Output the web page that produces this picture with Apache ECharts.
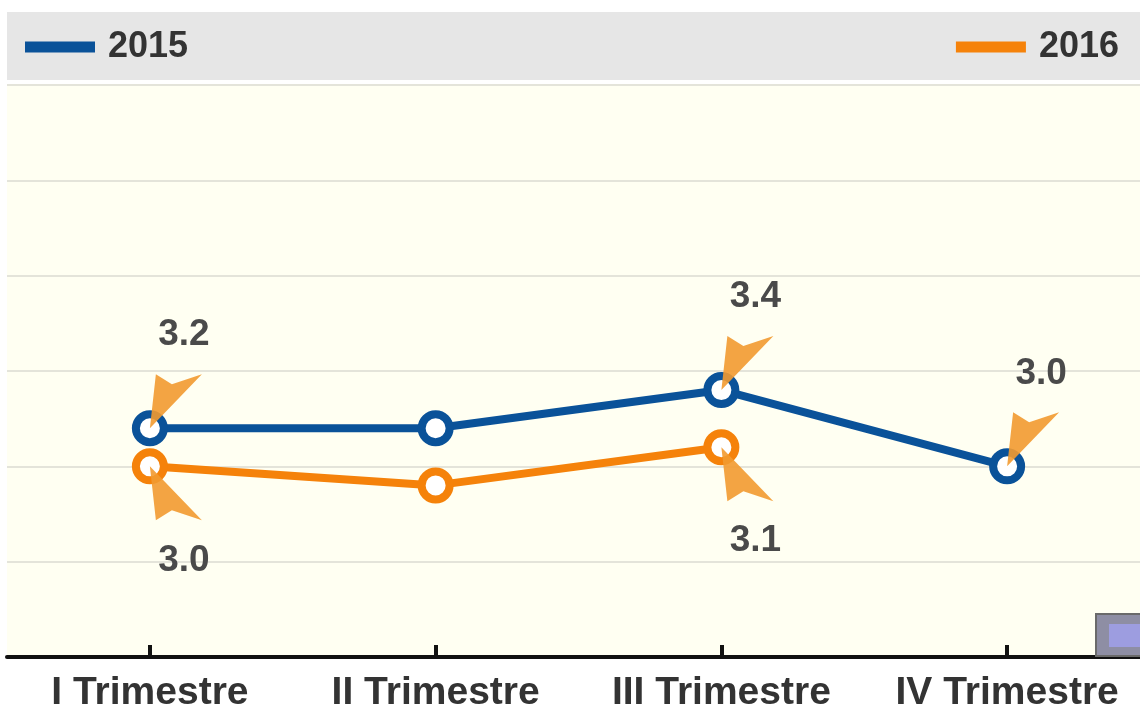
<!DOCTYPE html>
<html>
<head>
<meta charset="utf-8">
<script src="https://cdn.jsdelivr.net/npm/echarts@6/dist/echarts.min.js"></script>
<style>
  html, body { margin: 0; padding: 0; background: #fff; }
  #myChart { width: 1140px; height: 709px; }
</style>
</head>
<body>
<div id="myChart"></div>
<script>
// dati del grafico
const categories = ['I Trimestre', 'II Trimestre', 'III Trimestre', 'IV Trimestre']
const values2015 = [3.2, 3.2, 3.4, 3.0]
const values2016 = [3.0, 2.9, 3.1, null]
// punti con etichetta (indici)
const labeled2015 = [0, 2, 3]
const labeled2016 = [0, 2]

const blue = '#0a5299'
const orange = '#f5820a'
const font = 'Liberation Sans, Arial, sans-serif'

// freccia: punta sul punto, coda in alto a destra
const arrowUp = 'path://M0,0 L6,-54 L22,-44 L52,-54 Z'
const arrowDown = 'path://M0,0 L6,54 L22,44 L52,54 Z'

function buildData (values, labeled, offsetY) {
  return values.map((v, i) => ({
    value: v,
    label: {
      show: labeled.indexOf(i) >= 0,
      position: 'inside',
      offset: [34, offsetY],
      formatter: p => p.value.toFixed(1)
    }
  }))
}

function buildMarks (values, labeled) {
  return labeled.map(i => ({ coord: [i, values[i]] }))
}

const myChart = echarts.init(document.getElementById('myChart'))
myChart.setOption({
  animation: false,
  textStyle: { fontFamily: font },
  graphic: [
    // fascia della legenda
    { type: 'rect', z: -1, shape: { x: 7, y: 12, width: 1133, height: 68 }, style: { fill: '#e6e6e6' } },
    // piccolo riquadro in basso a destra
    { type: 'rect', z: 10, shape: { x: 1096, y: 614, width: 46, height: 42 }, style: { fill: '#8e8ea4', stroke: '#6a6a6a', lineWidth: 2 } },
    { type: 'rect', z: 11, shape: { x: 1109, y: 624, width: 31, height: 23 }, style: { fill: '#9d9de0' } }
  ],
  legend: [{
    data: [{ name: '2015', itemStyle: { color: blue, borderWidth: 0 } }],
    left: 20,
    top: 24,
    icon: 'rect',
    itemWidth: 70,
    itemHeight: 11,
    itemGap: 18,
    textStyle: { fontSize: 36, fontWeight: 'bold', color: '#333', fontFamily: font, padding: [0, 0, 0, 8] }
  }, {
    data: [{ name: '2016', itemStyle: { color: orange, borderWidth: 0 } }],
    right: 16,
    top: 24,
    icon: 'rect',
    itemWidth: 70,
    itemHeight: 11,
    textStyle: { fontSize: 36, fontWeight: 'bold', color: '#333', fontFamily: font, padding: [0, 0, 0, 8] }
  }],
  grid: {
    left: 7,
    right: -10,
    top: 85,
    bottom: 52,
    outerBoundsMode: 'none',
    show: true,
    backgroundColor: '#fffff2',
    borderWidth: 0
  },
  xAxis: {
    type: 'category',
    data: categories,
    axisLine: { lineStyle: { color: '#111', width: 4 } },
    axisTick: { show: true, inside: true, length: 12, alignWithLabel: true, interval: 0, lineStyle: { color: '#111', width: 4 } },
    axisLabel: { interval: 0, hideOverlap: false, fontSize: 39, fontWeight: 'bold', color: '#333', margin: 17, fontFamily: font }
  },
  yAxis: {
    type: 'value',
    min: 2,
    max: 5,
    interval: 0.5,
    axisLabel: { show: false },
    axisLine: { show: false },
    axisTick: { show: false },
    splitLine: { lineStyle: { color: '#e4e4da', width: 2 } }
  },
  series: [{
    name: '2015',
    type: 'line',
    data: buildData(values2015, labeled2015, -93),
    symbol: 'circle',
    symbolSize: 28,
    lineStyle: { color: blue, width: 8 },
    itemStyle: { color: '#fff', borderColor: blue, borderWidth: 8 },
    label: { fontSize: 37, fontWeight: 'bold', color: '#4a4a4a', fontFamily: font },
    markPoint: {
      symbol: arrowUp,
      symbolSize: [52, 54],
      symbolOffset: [26, -27],
      itemStyle: { color: '#f29a30', opacity: 0.9 },
      label: { show: false },
      data: buildMarks(values2015, labeled2015)
    },
    z: 3
  }, {
    name: '2016',
    type: 'line',
    data: buildData(values2016, labeled2016, 94),
    symbol: 'circle',
    symbolSize: 28,
    lineStyle: { color: orange, width: 8 },
    itemStyle: { color: '#fff', borderColor: orange, borderWidth: 8 },
    label: { fontSize: 37, fontWeight: 'bold', color: '#4a4a4a', fontFamily: font },
    markPoint: {
      symbol: arrowDown,
      symbolSize: [52, 54],
      symbolOffset: [26, 27],
      itemStyle: { color: '#f29a30', opacity: 0.9 },
      label: { show: false },
      data: buildMarks(values2016, labeled2016)
    },
    z: 2
  }]
})
</script>
</body>
</html>
